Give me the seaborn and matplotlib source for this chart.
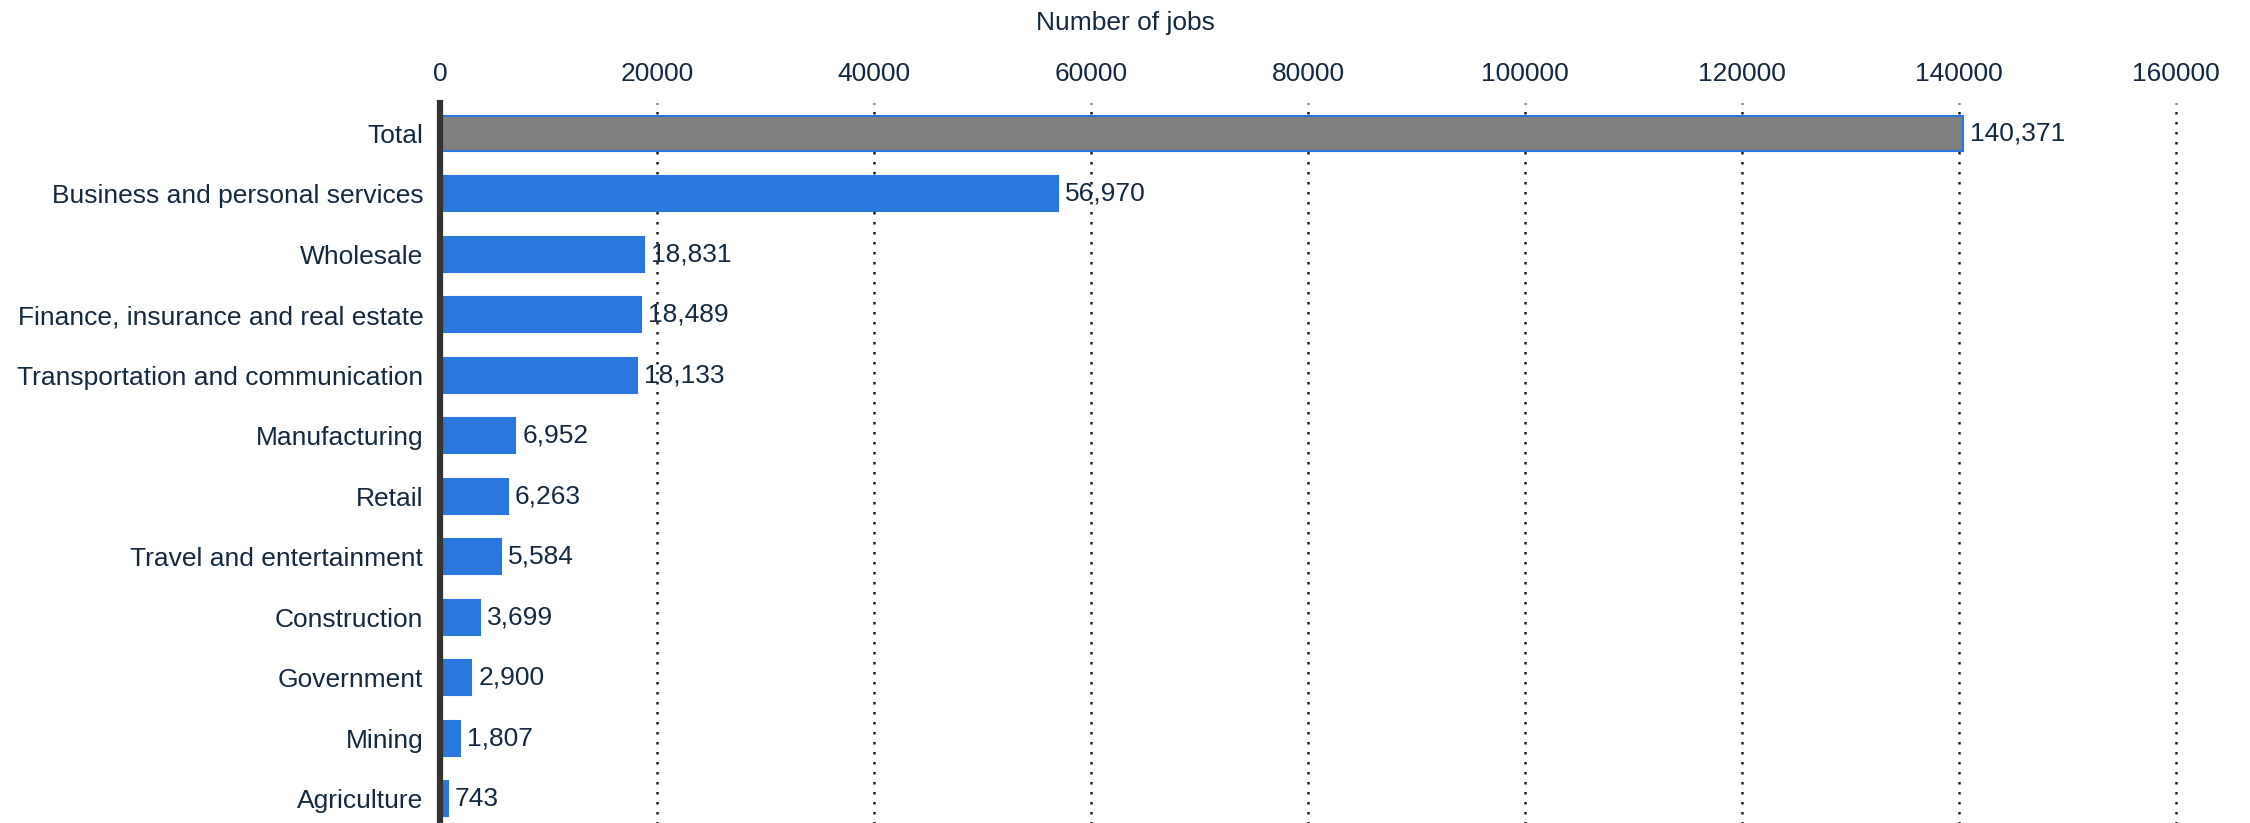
import matplotlib
matplotlib.use("Agg")
import matplotlib.pyplot as plt
import seaborn as sns
import pandas as pd

categories = [
    "Total",
    "Business and personal services",
    "Wholesale",
    "Finance, insurance and real estate",
    "Transportation and communication",
    "Manufacturing",
    "Retail",
    "Travel and entertainment",
    "Construction",
    "Government",
    "Mining",
    "Agriculture",
]
jobs = [140371, 56970, 18831, 18489, 18133, 6952, 6263, 5584, 3699, 2900, 1807, 743]
x_ticks = [0, 20000, 40000, 60000, 80000, 100000, 120000, 140000, 160000]

BLUE = "#2a78de"
GREY = "#808080"
TEXT = "#152a40"
FS = 19

df = pd.DataFrame({"category": categories, "jobs": jobs})
df["group"] = ["total" if c == "Total" else "sector" for c in categories]

sns.set_style("white")
plt.rcParams["font.family"] = ["Liberation Sans", "DejaVu Sans"]

fig = plt.figure(figsize=(22.5, 8.23), dpi=100)
ax = fig.add_axes([440 / 2250, -3 / 823, (2176 - 440) / 2250, (823 - 100) / 823])

sns.barplot(
    data=df, x="jobs", y="category", hue="group",
    palette={"total": GREY, "sector": BLUE},
    order=categories, hue_order=["total", "sector"],
    dodge=False, width=0.58, legend=False, ax=ax, saturation=1,
    edgecolor=BLUE, linewidth=1.5,
)

ax.set_xlim(0, 160000)
ax.set_ylim(11.45, -0.5)
ax.set_xticks(x_ticks)
ax.set_xticklabels([str(t) for t in x_ticks])
ax.xaxis.tick_top()
ax.xaxis.set_label_position("top")
ax.tick_params(axis="x", length=0, pad=12, labelsize=FS, labelcolor=TEXT)
ax.tick_params(axis="y", length=0, pad=12, labelsize=FS, labelcolor=TEXT)
ax.set_xlabel("")
ax.set_ylabel("")

for s in ["top", "right", "bottom"]:
    ax.spines[s].set_visible(False)
ax.spines["left"].set_color("#333333")
ax.spines["left"].set_linewidth(4.5)

for t in x_ticks[1:]:
    ax.axvline(t, color="#222222", linestyle=(0, (1, 3)), linewidth=1.8,
               zorder=0, clip_on=False)

for i, v in enumerate(jobs):
    ax.annotate(f"{v:,}", xy=(v, i), xytext=(5, 0), textcoords="offset points",
                va="center", ha="left", fontsize=FS, color=TEXT)

fig.text(0.5, 1 - 23 / 823, "Number of jobs", ha="center", va="center",
         fontsize=FS, color=TEXT)

fig.savefig("out.png", dpi=100)
